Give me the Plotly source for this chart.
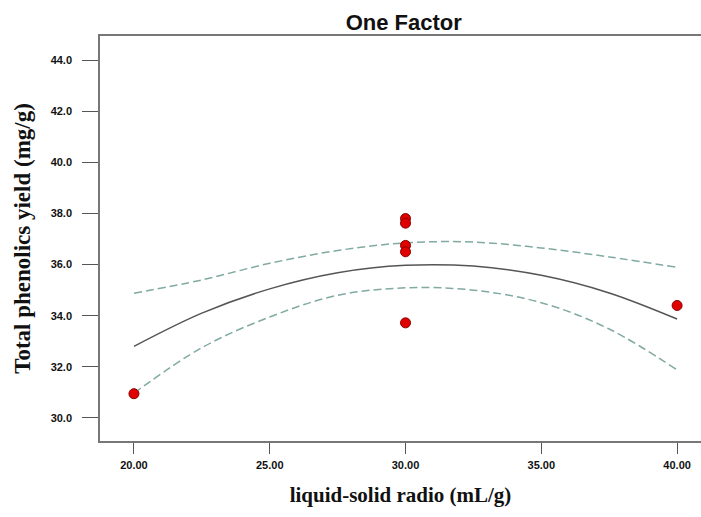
import plotly.graph_objects as go

# Experimental points
pts_x = [20, 30, 30, 30, 30, 30, 40]
pts_y = [30.95, 37.8, 37.62, 36.75, 36.5, 33.72, 34.4]

# Model curve
curve_x = [20, 22.5, 25, 27.5, 30, 32.5, 35, 37.5, 40]
mean_y = [32.8, 34.10, 35.05, 35.68, 35.97, 35.94, 35.58, 34.89, 33.87]
upper_y = [34.88, 35.4, 36.05, 36.55, 36.85, 36.88, 36.65, 36.3, 35.89]
lower_y = [30.97, 32.75, 33.95, 34.8, 35.09, 35.0, 34.51, 33.48, 31.88]

y_ticks = [30, 32, 34, 36, 38, 40, 42, 44]
x_ticks = [20, 25, 30, 35, 40]

fig = go.Figure()
dash_col = "#80aaa2"
fig.add_trace(go.Scatter(x=curve_x, y=upper_y, mode="lines", line=dict(color=dash_col, width=1.5, dash="8px,4px", shape="spline"), hoverinfo="skip"))
fig.add_trace(go.Scatter(x=curve_x, y=lower_y, mode="lines", line=dict(color=dash_col, width=1.5, dash="8px,4px", shape="spline"), hoverinfo="skip"))
fig.add_trace(go.Scatter(x=curve_x, y=mean_y, mode="lines", line=dict(color="#555555", width=1.5, shape="spline")))
fig.add_trace(go.Scatter(x=pts_x, y=pts_y, mode="markers",
                         marker=dict(symbol="circle", size=10, color="#e00000", line=dict(color="#8a0000", width=1))))

tickfont = dict(family="Liberation Sans Narrow, Liberation Sans, Arial", size=11, color="#111111", weight=700)
fig.update_layout(
    width=701, height=517,
    margin=dict(l=100, r=0, t=36, b=76),
    paper_bgcolor="white", plot_bgcolor="white",
    showlegend=False,
    title=dict(text="One Factor", x=0.576, xanchor="center", y=1 - 22 / 517, yanchor="middle",
               font=dict(family="Liberation Sans, Arial", size=22, color="#111111", weight=700)),
    xaxis=dict(range=[18.75, 40.88], tickvals=x_ticks, ticktext=[f"{v:.2f}" for v in x_ticks],
               showgrid=False, zeroline=False, showline=True, linecolor="#777777", linewidth=1.5,
               mirror=True, ticks="outside", ticklen=11, tickcolor="#555555", tickwidth=1,
               tickfont=tickfont, ticklabelstandoff=2,
               title=dict(text="liquid-solid radio (mL/g)", standoff=17,
                          font=dict(family="Liberation Serif, Times New Roman", size=21, color="#111111", weight=700))),
    yaxis=dict(range=[29.1, 44.94], tickvals=y_ticks, ticktext=[f"{v:.1f}" for v in y_ticks],
               showgrid=False, zeroline=False, showline=True, linecolor="#777777", linewidth=1.5,
               ticks="outside", ticklen=16, tickcolor="#555555", tickwidth=1,
               tickfont=tickfont, ticklabelstandoff=8,
               title=dict(text="Total phenolics yield (mg/g)", standoff=14,
                          font=dict(family="Liberation Serif, Times New Roman", size=23, color="#111111", weight=700))),
)

fig.write_html("out.html")
